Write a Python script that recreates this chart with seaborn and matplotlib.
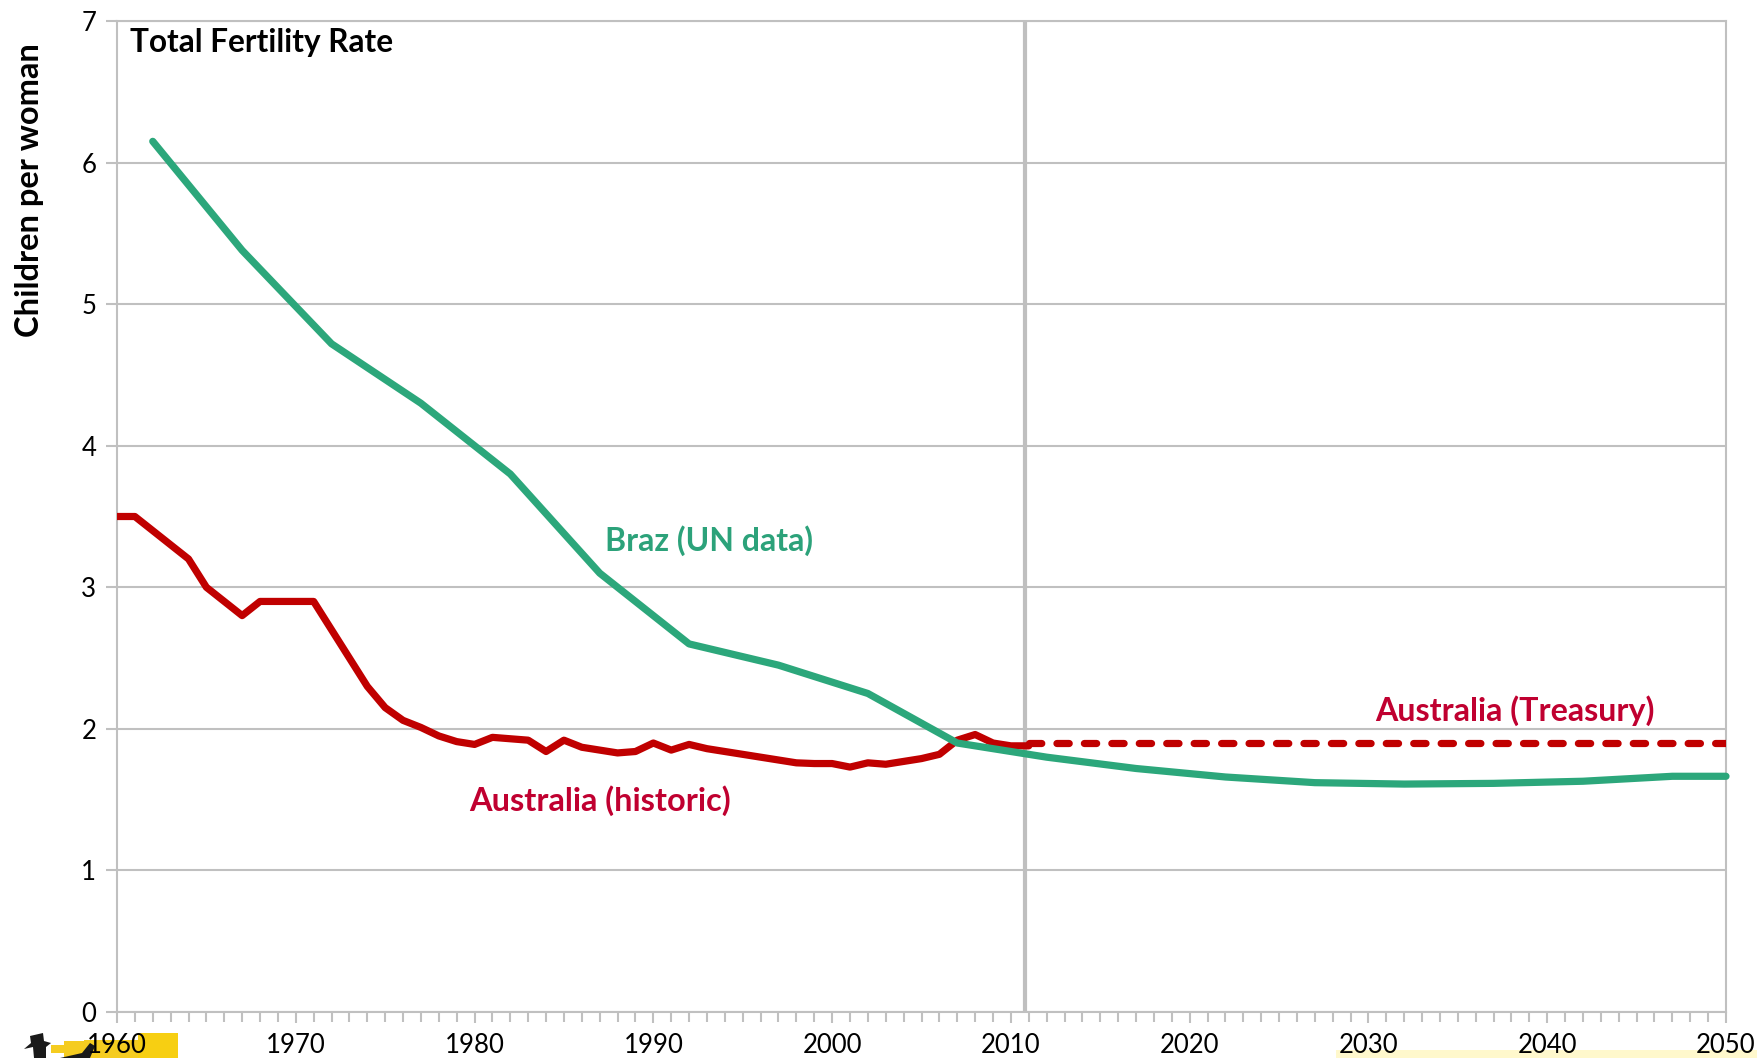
import numpy as np
import pandas as pd
import matplotlib
matplotlib.use("Agg")
import matplotlib.pyplot as plt
from matplotlib.patches import Rectangle, Polygon
import seaborn as sns

hist_years = list(range(1960, 2012))
hist_values = [3.5, 3.5, 3.4, 3.3, 3.2, 3.0, 2.9, 2.8, 2.9, 2.9, 2.9, 2.9, 2.7, 2.5, 2.3, 2.15,
               2.06, 2.01, 1.95, 1.91, 1.89, 1.94, 1.93, 1.92, 1.84, 1.92, 1.87, 1.85, 1.83, 1.84,
               1.90, 1.85, 1.89, 1.86, 1.84, 1.82, 1.80, 1.78, 1.76, 1.755, 1.755, 1.73, 1.76, 1.75,
               1.77, 1.79, 1.82, 1.92, 1.96, 1.90, 1.88, 1.88]
treasury_years = [2011, 2050]
treasury_values = [1.9, 1.9]
braz_years = [1962, 1967, 1972, 1977, 1982, 1987, 1992, 1997, 2002, 2007, 2012, 2017, 2022, 2027,
              2032, 2037, 2042, 2047, 2050]
braz_values = [6.15, 5.38, 4.72, 4.30, 3.80, 3.10, 2.60, 2.45, 2.25, 1.90, 1.80, 1.72, 1.66, 1.62,
               1.61, 1.615, 1.63, 1.665, 1.665]
x_ticks = list(range(1960, 2051, 10))
y_ticks = list(range(0, 8))

W, H = 1758, 1058
sns.set_theme(style="white")
plt.rcParams['font.family'] = ['Lato', 'DejaVu Sans']
fig = plt.figure(figsize=(W / 100, H / 100), dpi=100, facecolor="white")
L, R, T, B = 117, 1726, 21, 1012
ax = fig.add_axes([L / W, 1 - B / H, (R - L) / W, (B - T) / H])

GREY = "#C0C0C0"
RED = "#C00000"
GREEN = "#2CA77B"
LW = 5.2

ax.set_axisbelow(True)
ax.grid(axis="y", color=GREY, lw=1.5)
ax.axvline(2010.8, color="#BFBFBF", lw=3, zorder=1.5)

sns.lineplot(x=hist_years, y=hist_values, ax=ax, color=RED, lw=LW, zorder=3)
sns.lineplot(x=treasury_years, y=treasury_values, ax=ax, color=RED, lw=LW, zorder=3,
             linestyle=(0, (1.7, 2.1)))
ax.lines[-1].set_dash_capstyle("round")
sns.lineplot(x=braz_years, y=braz_values, ax=ax, color=GREEN, lw=LW, zorder=4)
ax.lines[-1].set_solid_capstyle("round")
ax.lines[-1].set_clip_on(False)

ax.set_xlim(1960, 2050)
ax.set_ylim(0, 7)
ax.set_xticks(x_ticks)
ax.set_xticks(list(range(1960, 2051)), minor=True)
ax.set_yticks(y_ticks)
ax.tick_params(axis="x", which="major", length=8, width=1.5, color=GREY, pad=7, labelsize=18.5, labelcolor="black", bottom=True)
ax.tick_params(axis="x", which="minor", length=7, width=1.5, color=GREY, bottom=True)
ax.tick_params(axis="y", which="major", length=8, width=1.5, color=GREY, pad=7, labelsize=18.5, labelcolor="black", left=True)
for s in ax.spines.values():
    s.set_color(GREY)
    s.set_linewidth(1.5)
    s.set_visible(True)

ax.set_ylabel("Children per woman", fontsize=23.5, fontweight="bold", color="black")
ax.yaxis.set_label_coords((44 - L) / (R - L), 0.829)

ax.text(1960.7, 6.85, "Total Fertility Rate", fontsize=22.7, fontweight="bold", color="black", va="center")
ax.text(1987.3, 3.33, "Braz (UN data)", fontsize=23, fontweight="bold", color="#2CA27A", va="center")
ax.text(1979.7, 1.49, "Australia (historic)", fontsize=23.4, fontweight="bold", color="#C00030", va="center")
ax.text(2030.4, 2.13, "Australia (Treasury)", fontsize=23.2, fontweight="bold", color="#C00030", va="center")

def px(x, y):
    return x / W, 1 - y / H

def frect(x0, y0, x1, y1, c):
    fig.add_artist(Rectangle(px(x0, y1), (x1 - x0) / W, (y1 - y0) / H, transform=fig.transFigure,
                             fc=c, ec="none", zorder=0))

def fpoly(points, c):
    fig.add_artist(Polygon([px(*p) for p in points], closed=True, transform=fig.transFigure,
                           fc=c, ec="none", zorder=0))

frect(1336, 1050, 1758, 1058, "#FFF8CC")
frect(51, 1045, 64, 1053, "#F5CC20")
frect(64, 1041, 84, 1058, "#F5CC20")
frect(84, 1040, 138, 1058, "#F5CC20")
frect(138, 1033, 178, 1058, "#F7CF12")
fpoly([(30, 1036), (43, 1033), (44, 1041), (51, 1043), (46, 1047), (46, 1058), (34, 1058), (33, 1047), (24, 1049), (31, 1043)], "#1A1A1A")
fpoly([(60, 1058), (82, 1053), (90, 1043), (95, 1046), (90, 1058)], "#1A1A1A")

fig.savefig("out.png", dpi=100, facecolor="white")
